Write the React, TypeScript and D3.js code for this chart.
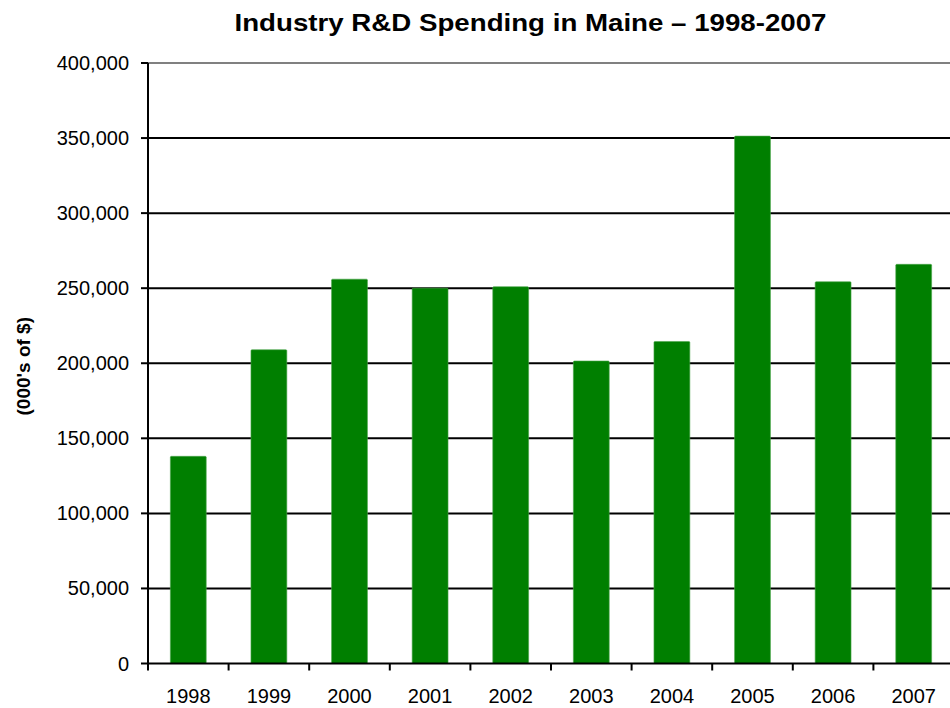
import { useRef, useEffect } from "react";
import * as d3 from "d3";

const years = ["1998", "1999", "2000", "2001", "2002", "2003", "2004", "2005", "2006", "2007"];
const spending = [138000, 209000, 256000, 250000, 251000, 201500, 214500, 351300, 254300, 265900];
const yTicks = [0, 50000, 100000, 150000, 200000, 250000, 300000, 350000, 400000];

const width = 950;
const height = 708;
const margin = { top: 63, right: -4, bottom: 44.5, left: 148 };

const App = () => {
  const svgRef = useRef<SVGSVGElement>(null);

  useEffect(() => {
    if (!svgRef.current) {
      return;
    }
    const svg = d3.select(svgRef.current);
    svg.selectAll("*").remove();

    const x = d3
      .scaleBand<string>()
      .domain(years)
      .range([margin.left, width - margin.right])
      .paddingInner(0.555)
      .paddingOuter(0.2775);

    const y = d3
      .scaleLinear()
      .domain([0, 400000])
      .range([height - margin.bottom, margin.top]);

    const step = x.step();
    const gap = (step - x.bandwidth()) / 2;
    const font = "Arial, 'Liberation Sans', sans-serif";

    // gridlines (top one is the grey plot border)
    svg
      .append("g")
      .selectAll("line")
      .data(yTicks.slice(1))
      .enter()
      .append("line")
      .attr("x1", margin.left)
      .attr("x2", width)
      .attr("y1", (d) => y(d))
      .attr("y2", (d) => y(d))
      .attr("stroke", (d) => (d === 400000 ? "#808080" : "#000"))
      .attr("stroke-width", 2);

    // bars
    svg
      .append("g")
      .selectAll("rect")
      .data(years)
      .enter()
      .append("rect")
      .attr("x", (d) => x(d)!)
      .attr("y", (d, i) => y(spending[i]))
      .attr("width", x.bandwidth())
      .attr("height", (d, i) => y(0) - y(spending[i]))
      .attr("rx", 1)
      .attr("fill", "#007f00")
      .attr("stroke", "#4ca64c")
      .attr("stroke-width", 0.6);

    // y axis
    const yAxis = svg.append("g");
    yAxis
      .append("line")
      .attr("x1", margin.left)
      .attr("x2", margin.left)
      .attr("y1", y(400000))
      .attr("y2", y(0) + 6)
      .attr("stroke", "#000")
      .attr("stroke-width", 2);
    yAxis
      .selectAll("line.tick")
      .data(yTicks)
      .enter()
      .append("line")
      .attr("class", "tick")
      .attr("x1", margin.left - 7)
      .attr("x2", margin.left)
      .attr("y1", (d) => y(d))
      .attr("y2", (d) => y(d))
      .attr("stroke", "#000")
      .attr("stroke-width", 2);
    yAxis
      .selectAll("text")
      .data(yTicks)
      .enter()
      .append("text")
      .attr("x", margin.left - 19)
      .attr("y", (d) => y(d))
      .attr("dy", "0.35em")
      .attr("text-anchor", "end")
      .attr("font-family", font)
      .attr("font-size", 20)
      .attr("fill", "#000")
      .text((d) => d3.format(",")(d));

    // x axis
    const xAxis = svg.append("g");
    xAxis
      .append("line")
      .attr("x1", margin.left)
      .attr("x2", width)
      .attr("y1", y(0))
      .attr("y2", y(0))
      .attr("stroke", "#000")
      .attr("stroke-width", 2);
    xAxis
      .selectAll("line.tick")
      .data(years)
      .enter()
      .append("line")
      .attr("class", "tick")
      .attr("x1", (d) => x(d)! - gap)
      .attr("x2", (d) => x(d)! - gap)
      .attr("y1", y(0))
      .attr("y2", y(0) + 7)
      .attr("stroke", "#000")
      .attr("stroke-width", 2);
    xAxis
      .selectAll("text")
      .data(years)
      .enter()
      .append("text")
      .attr("x", (d) => x(d)! + x.bandwidth() / 2)
      .attr("y", y(0) + 39)
      .attr("text-anchor", "middle")
      .attr("font-family", font)
      .attr("font-size", 20)
      .attr("fill", "#000")
      .text((d) => d);

    // title is drawn a bit wide, like the original
    svg
      .append("text")
      .attr("transform", "translate(530.5,31) scale(1.13,1)")
      .attr("text-anchor", "middle")
      .attr("font-family", font)
      .attr("font-weight", "bold")
      .attr("font-size", 24.5)
      .text("Industry R&D Spending in Maine – 1998-2007");

    svg
      .append("text")
      .attr("transform", `translate(30,${(y(0) + y(400000)) / 2 + 3}) rotate(-90)`)
      .attr("text-anchor", "middle")
      .attr("font-family", font)
      .attr("font-weight", "bold")
      .attr("font-size", 19)
      .text("(000's of $)");
  }, []);

  return (
    <svg
      ref={svgRef}
      width={width}
      height={height}
      style={{ position: "absolute", left: 0, top: 0, background: "#fff" }}
    />
  );
};

export default App;
